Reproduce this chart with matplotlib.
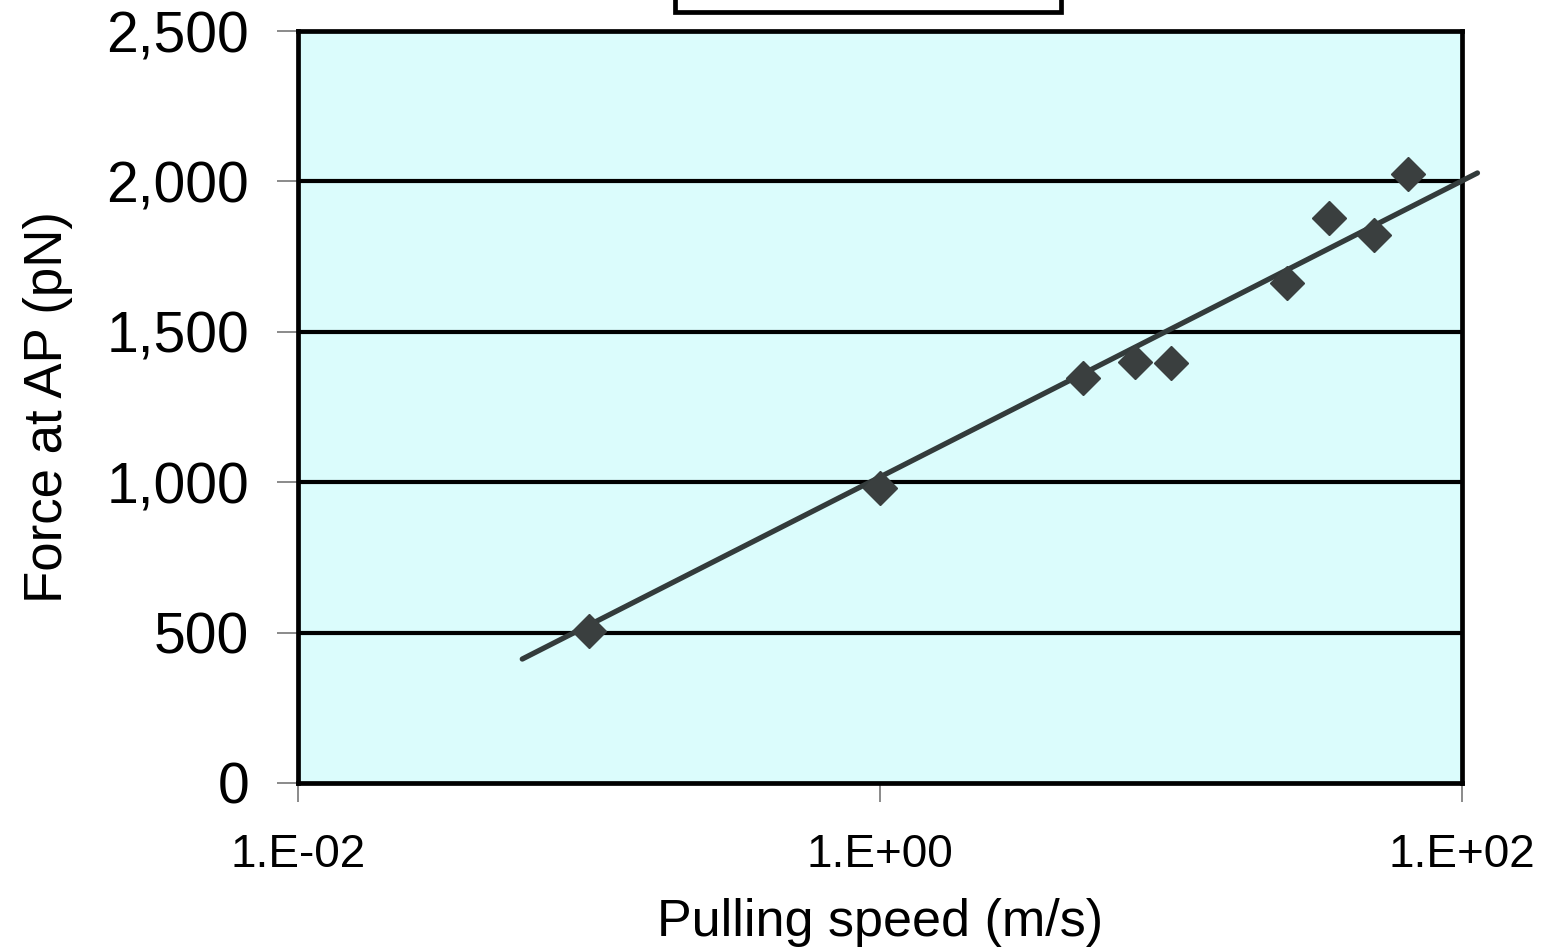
import numpy as np
import matplotlib.pyplot as plt
from matplotlib.patches import Rectangle

plt.rcParams['font.family'] = ['Liberation Sans', 'DejaVu Sans']

# measured points: pulling speed (m/s) vs force at AP (pN)
speed = [0.1, 1.0, 5.0, 7.5, 10.0, 25.0, 35.0, 50.0, 65.0]
force = [505, 981, 1346, 1400, 1396, 1662, 1878, 1822, 2025]

# log trend line end points
trend_speed = [0.059, 113.0]
trend_force = [412, 2028]

x_ticks = [1e-2, 1e0, 1e2]
x_ticklabels = ['1.E-02', '1.E+00', '1.E+02']
y_ticks = [0, 500, 1000, 1500, 2000, 2500]
y_ticklabels = ['0', '500', '1,000', '1,500', '2,000', '2,500']

fig = plt.figure(figsize=(15.43, 9.51), dpi=100)
ax = fig.add_axes([0.1931, 0.1767, 0.7544, 0.7907])
ax.set_facecolor('#dbfcfc')

ax.set_xscale('log')
ax.set_xlim(1e-2, 1e2)
ax.set_ylim(0, 2500)

for v in y_ticks[1:-1]:
    ax.axhline(v, color='black', lw=3.0, zorder=1)

ax.plot(trend_speed, trend_force, color='#333b3b', lw=3.8, solid_capstyle='round',
        clip_on=False, zorder=3)
ax.plot(speed, force, linestyle='none', marker='D', ms=17, color='#3a3f3f', zorder=4)

ax.set_xticks(x_ticks)
ax.set_xticklabels(x_ticklabels, fontsize=33)
ax.xaxis.set_minor_locator(plt.NullLocator())
ax.set_yticks(y_ticks)
ax.set_yticklabels(y_ticklabels, fontsize=41)
ax.tick_params(axis='x', length=14, width=1.2, color='#777777', pad=22)
ax.tick_params(axis='y', length=15, width=1.2, color='#777777', pad=20)

for s in ax.spines.values():
    s.set_color('black')
    s.set_linewidth(3.4)

ax.set_xlabel('Pulling speed (m/s)', fontsize=37.5, labelpad=15)
ax.set_ylabel('Force at AP (pN)', fontsize=38, labelpad=24)

# box at the top edge
fig.patches.append(Rectangle((0.4375, 0.987), 0.2502, 0.05, transform=fig.transFigure,
                             facecolor='white', edgecolor='black', lw=3.4))

fig.savefig('out.png', dpi=100)
